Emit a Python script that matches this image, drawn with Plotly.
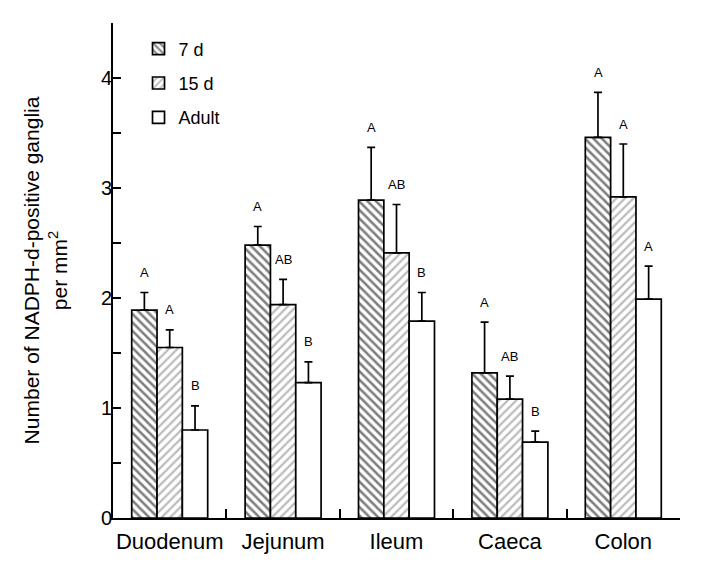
import plotly.graph_objects as go

# data
segments = ["Duodenum", "Jejunum", "Ileum", "Caeca", "Colon"]
groups = ["7 d", "15 d", "Adult"]
means_7d = [1.89, 2.48, 2.89, 1.32, 3.46]
means_15d = [1.55, 1.94, 2.41, 1.08, 2.92]
means_adult = [0.80, 1.23, 1.79, 0.69, 1.99]
err_7d = [0.16, 0.17, 0.48, 0.46, 0.41]
err_15d = [0.16, 0.23, 0.44, 0.21, 0.48]
err_adult = [0.22, 0.19, 0.26, 0.10, 0.30]
letters_7d = ["A", "A", "A", "A", "A"]
letters_15d = ["A", "AB", "AB", "AB", "A"]
letters_adult = ["B", "B", "B", "B", "A"]

FONT = "Liberation Sans, Arial, sans-serif"

styles = [
    dict(shape="\\", fgcolor="black", bgcolor="white", size=6, solidity=0.42),
    dict(shape="/", fgcolor="#7a7a7a", bgcolor="white", size=6, solidity=0.38),
    dict(shape="", bgcolor="white"),
]
means = [means_7d, means_15d, means_adult]
errs = [err_7d, err_15d, err_adult]
letters = [letters_7d, letters_15d, letters_adult]

fig = go.Figure()
for i, name in enumerate(groups):
    fig.add_trace(go.Bar(
        x=segments,
        y=means[i],
        name=name,
        legendgroup=name,
        marker=dict(color="white", line=dict(color="black", width=1.7),
                    pattern=styles[i]),
        error_y=dict(type="data", symmetric=False, array=errs[i],
                     arrayminus=[0] * len(segments),
                     color="black", thickness=1.7, width=4),
    ))

shifts = [-25.3, 0, 25.3]
for i in range(3):
    for j, seg in enumerate(segments):
        fig.add_annotation(
            x=seg, y=means[i][j] + errs[i][j],
            text=letters[i][j], showarrow=False,
            xshift=shifts[i], yshift=20, yanchor="middle",
            font=dict(family=FONT, size=13, color="black"),
        )

# the page body adds an 8px offset, so the figure is 8px smaller
fig.update_layout(
    width=694, height=564,
    margin=dict(l=105, r=22, t=15, b=54),
    plot_bgcolor="white", paper_bgcolor="white",
    barmode="group", bargap=0.33, bargroupgap=0,
    font=dict(family=FONT, color="black"),
    showlegend=True,
    legend=dict(x=0.045, y=0.985, xanchor="left", yanchor="top",
                font=dict(family=FONT, size=18), tracegroupgap=8,
                bgcolor="rgba(0,0,0,0)"),
    xaxis=dict(showline=True, linecolor="black", linewidth=1.7,
               ticks="inside", tickson="boundaries", ticklen=9,
               tickcolor="black", tickwidth=1.7, ticklabelstandoff=3,
               tickangle=0, automargin=False,
               tickfont=dict(family=FONT, size=22), showgrid=False),
    yaxis=dict(range=[0, 4.5], dtick=1, showline=True, linecolor="black",
               linewidth=1.7, ticks="inside", ticklen=8, tickcolor="black",
               tickwidth=1.7, tickfont=dict(family=FONT, size=20),
               ticklabelstandoff=-5,
               showgrid=False, zeroline=False,
               minor=dict(dtick=0.5, ticks="inside", ticklen=8,
                          tickcolor="black", tickwidth=1.7),
               title=dict(text="Number of NADPH-d-positive ganglia<br>per mm<sup>2</sup>",
                          font=dict(family=FONT, size=21), standoff=28)),
)

fig.write_html("out.html")
